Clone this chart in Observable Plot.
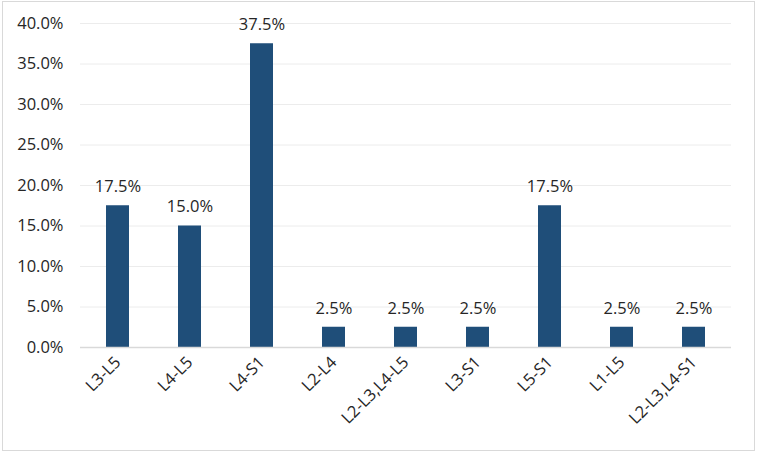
<!DOCTYPE html>
<html>
<head>
<meta charset="utf-8">
<script src="https://cdn.jsdelivr.net/npm/d3@7"></script>
<script src="https://cdn.jsdelivr.net/npm/@observablehq/plot@0.6"></script>
<style>
  html, body { margin: 0; padding: 0; background: #fff; }
  #wrap { position: relative; width: 760px; height: 462px; }
  #border { position: absolute; left: 2px; top: 1px; width: 751px; height: 448px; border: 1.5px solid #d9d9d9; pointer-events: none; }
  svg { font-family: "Open Sans", "Noto Sans", sans-serif; }
</style>
</head>
<body>
<div id="wrap"><div id="border"></div></div>
<script>
const categories = ["L3-L5", "L4-L5", "L4-S1", "L2-L4", "L2-L3,L4-L5", "L3-S1", "L5-S1", "L1-L5", "L2-L3,L4-S1"];
const values = [0.175, 0.15, 0.375, 0.025, 0.025, 0.025, 0.175, 0.025, 0.025];
const yTicks = [0, 0.05, 0.10, 0.15, 0.20, 0.25, 0.30, 0.35, 0.40];

const data = categories.map((c, i) => ({category: c, value: values[i]}));
const fmt = d3.format(".1%");
const FS = 16.5;

const chart = Plot.plot({
  width: 760,
  height: 462,
  marginLeft: 80,
  marginRight: 29,
  marginTop: 23,
  marginBottom: 115,
  style: {fontSize: FS + "px", color: "#262626", background: "transparent"},
  x: {domain: categories, paddingInner: 0.68, paddingOuter: 0.34, label: null},
  y: {domain: [0, 0.4], label: null},
  marks: [
    Plot.gridY(yTicks, {stroke: "#ececec", strokeOpacity: 1}),
    Plot.axisY(yTicks, {tickSize: 0, tickPadding: 17, tickFormat: fmt, label: null, fill: "#262626", fontSize: FS}),
    Plot.barY(data, {x: "category", y: "value", fill: "#1F4E79"}),
    Plot.ruleY([0], {stroke: "#d9d9d9", strokeWidth: 1.5}),
    Plot.axisX({tickSize: 0, tickPadding: 12, tickRotate: -45, label: null, fill: "#262626", fontSize: FS}),
    Plot.text(data, {x: "category", y: "value", text: d => fmt(d.value), dy: -19, fill: "#262626", fontSize: FS})
  ]
});
document.getElementById("wrap").prepend(chart);
</script>
</body>
</html>
